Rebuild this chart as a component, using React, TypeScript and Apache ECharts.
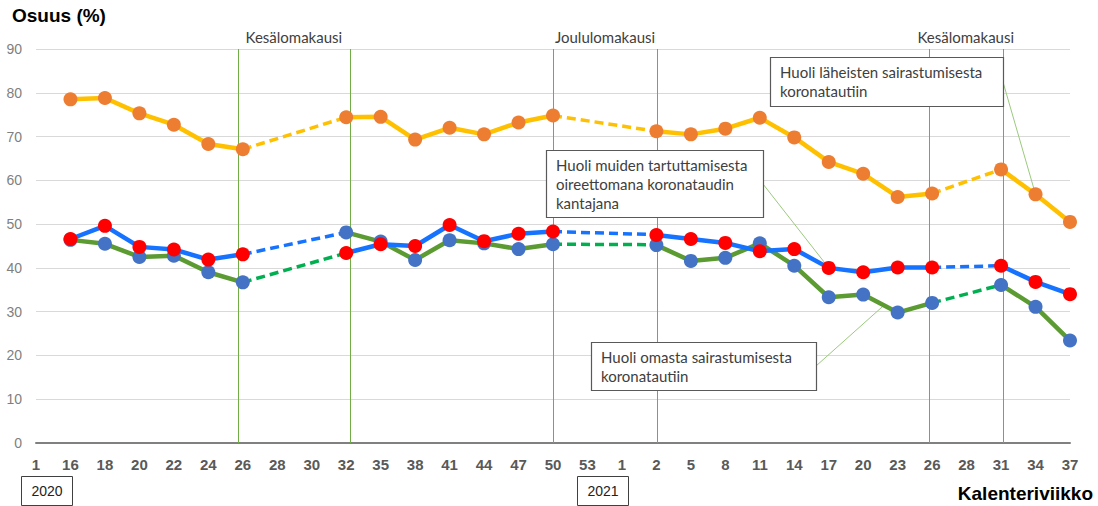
import React, { useEffect, useRef } from "react";
import * as echarts from "echarts";

// Calendar weeks (tick labels) per year
const weeks2020 = ["1", "16", "18", "20", "22", "24", "26", "28", "30", "32", "35", "38", "41", "44", "47", "50", "53"];
const weeks2021 = ["1", "2", "5", "8", "11", "14", "17", "20", "23", "26", "28", "31", "34", "37"];
const categories = [
  ...weeks2020.map((w) => `2020-${w}`),
  ...weeks2021.map((w) => `2021-${w}`),
];

// Huoli läheisten sairastumisesta koronatautiin (%)
const lahesten = [
  null, 78.5, 78.8, 75.3, 72.7, 68.3, 67.1, null, null, 74.4, 74.5, 69.3, 72.0, 70.5, 73.2, 74.8, null,
  null, 71.2, 70.5, 71.8, 74.3, 69.8, 64.2, 61.5, 56.2, 57.0, null, 62.5, 56.8, 50.5,
];
// Huoli muiden tartuttamisesta oireettomana koronataudin kantajana (%)
const muiden = [
  null, 46.6, 49.6, 44.8, 44.2, 41.9, 43.1, null, null, 43.4, 45.4, 45.0, 49.8, 46.1, 47.8, 48.3, null,
  null, 47.5, 46.6, 45.7, 43.8, 44.3, 40.0, 39.0, 40.1, 40.1, null, 40.5, 36.8, 34.0,
];
// Huoli omasta sairastumisesta koronatautiin (%)
const omasta = [
  null, 46.4, 45.5, 42.5, 42.8, 39.0, 36.7, null, null, 48.1, 46.0, 41.8, 46.3, 45.6, 44.3, 45.4, null,
  null, 45.2, 41.6, 42.3, 45.6, 40.5, 33.3, 33.9, 29.8, 32.0, null, 36.1, 31.1, 23.4,
];

// Dashed bridges over the gaps (start week, end week) and their end values
const gapEnds = [
  ["2020-26", "2020-32"],
  ["2020-50", "2021-2"],
  ["2021-26", "2021-31"],
];
const lahestenBridge = [[67.1, 74.4], [74.8, 71.2], [57.0, 62.5]];
const muidenBridge = [[43.1, 48.1], [48.3, 47.6], [40.1, 40.5]];
const omastaBridge = [[36.7, 43.4], [45.4, 45.3], [32.0, 36.1]];

// Holiday periods (vertical lines, positions on the category axis)
const periodLines = [5.86, 9.1, 15.0, 18.02, 25.9, 28.05];
const periodNames = ["Kesälomakausi", "Joululomakausi", "Kesälomakausi"];

const yTicks = { min: 0, max: 90, interval: 10 };

const ANN_FONT = "Lato";
const ANN_COLOR = "#404040";

export default function App() {
  const ref = useRef<HTMLDivElement>(null);

  useEffect(() => {
    if (!ref.current) return;
    const chart = echarts.init(ref.current, null, { renderer: "svg" });

    const idx = (c: string) => categories.indexOf(c);

    const bridgeSeries = (bridges: number[][], color: string) =>
      bridges.map((b, i) => ({
        type: "line",
        data: [
          [idx(gapEnds[i][0]), b[0]],
          [idx(gapEnds[i][1]), b[1]],
        ],
        showSymbol: false,
        symbol: "none",
        silent: true,
        lineStyle: { color, width: 3.5, type: [9, 5] },
        z: 2,
      }));

    const solid = (data: (number | null)[], lineColor: string, markerColor: string) => ({
      type: "line",
      data,
      connectNulls: false,
      symbol: "circle",
      symbolSize: 14,
      showSymbol: true,
      silent: true,
      lineStyle: { color: lineColor, width: 4.5 },
      itemStyle: { color: markerColor, borderWidth: 0 },
      z: 3,
    });

    chart.setOption({
      animation: false,
      grid: { left: 36, right: 28, top: 49, bottom: 63 },
      xAxis: {
        type: "category",
        data: categories,
        boundaryGap: false,
        axisLine: { lineStyle: { color: "#808080", width: 2 } },
        axisTick: { show: false },
        splitLine: { show: false },
        axisLabel: {
          interval: 0,
          formatter: (v: string) => v.split("-")[1],
          fontWeight: "bold",
          fontSize: 15,
          fontFamily: "Liberation Sans",
          color: "#595959",
          margin: 14,
        },
      },
      yAxis: {
        type: "value",
        min: yTicks.min,
        max: yTicks.max,
        interval: yTicks.interval,
        axisLine: { show: false },
        axisTick: { show: false },
        axisLabel: { fontSize: 14, fontFamily: "Liberation Sans", color: "#7F7F7F", margin: 14 },
        splitLine: { lineStyle: { color: "#D9D9D9", width: 1 } },
      },
      series: [
        ...bridgeSeries(omastaBridge, "#00B050"),
        ...bridgeSeries(muidenBridge, "#1573FF"),
        ...bridgeSeries(lahestenBridge, "#FFC000"),
        solid(omasta, "#5B9B32", "#4472C4"),
        solid(muiden, "#1573FF", "#FF0000"),
        solid(lahesten, "#FFC000", "#ED7D31"),
      ],
    });

    const px = (i: number, v: number) => chart.convertToPixel({ gridIndex: 0 }, [i, v]) as number[];
    const x0 = px(0, 0)[0];
    const x1 = px(1, 0)[0];
    const xAt = (f: number) => x0 + (x1 - x0) * f;
    const yTop = px(0, yTicks.max)[1];
    const yBottom = px(0, yTicks.min)[1];

    const graphics: any[] = [];

    // Holiday period vertical lines
    periodLines.forEach((f) => {
      const x = Math.round(xAt(f)) + 0.5;
      graphics.push({
        type: "line",
        shape: { x1: x, y1: yTop, x2: x, y2: yBottom },
        style: { stroke: "#70AD47", lineWidth: 1 },
        z: 1,
        silent: true,
      });
    });

    // Titles
    graphics.push({
      type: "text",
      left: 12,
      top: 6,
      style: { text: "Osuus (%)", font: "bold 19px 'Liberation Sans'", fill: "#000" },
    });
    graphics.push({
      type: "text",
      right: 5,
      top: 484,
      style: { text: "Kalenteriviikko", font: "bold 19px 'Liberation Sans'", fill: "#000" },
    });

    // Period labels
    periodNames.forEach((name, i) => {
      const x = (xAt(periodLines[2 * i]) + xAt(periodLines[2 * i + 1])) / 2;
      graphics.push({
        type: "text",
        x,
        y: 37,
        style: {
          text: name,
          fontSize: 15,
          fontFamily: ANN_FONT,
          fill: ANN_COLOR,
          align: "center",
          verticalAlign: "middle",
        },
      });
    });

    // Year boxes
    const yearBox = (x: number, label: string) => {
      graphics.push({
        type: "rect",
        shape: { x: x + 0.5, y: 476.5, width: 51, height: 29 },
        style: { fill: "#fff", stroke: "#404040", lineWidth: 1 },
      });
      graphics.push({
        type: "text",
        x: x + 26,
        y: 491,
        style: {
          text: label,
          fontSize: 14,
          fontFamily: "Liberation Sans",
          fill: "#222",
          align: "center",
          verticalAlign: "middle",
        },
      });
    };
    yearBox(21, "2020");
    yearBox(577, "2021");

    // Annotation boxes with leader lines
    const annot = (
      x: number,
      y: number,
      w: number,
      h: number,
      text: string,
      from: number[],
      to: number[]
    ) => {
      graphics.push({
        type: "line",
        shape: { x1: from[0], y1: from[1], x2: to[0], y2: to[1] },
        style: { stroke: "#9CC97E", lineWidth: 1 },
        z: 1,
      });
      graphics.push({
        type: "rect",
        shape: { x: x + 0.5, y: y + 0.5, width: w, height: h },
        style: { fill: "#fff", stroke: "#595959", lineWidth: 1.2 },
        z: 10,
      });
      graphics.push({
        type: "text",
        x: x + 10,
        y: y + 5,
        z: 11,
        style: {
          text,
          fontSize: 15,
          lineHeight: 19,
          fontFamily: ANN_FONT,
          fill: ANN_COLOR,
          align: "left",
          verticalAlign: "top",
        },
      });
    };

    const pL = px(idx("2021-34"), lahesten[idx("2021-34")] as number);
    annot(770, 57, 233, 49, "Huoli läheisten sairastumisesta\nkoronatautiin", [1003, 82], pL);

    const pM = px(idx("2021-17"), muiden[idx("2021-17")] as number);
    annot(546, 150, 217, 67, "Huoli muiden tartuttamisesta\noireettomana koronataudin\nkantajana", [763, 184], pM);

    const a = px(idx("2021-20"), omasta[idx("2021-20")] as number);
    const b = px(idx("2021-23"), omasta[idx("2021-23")] as number);
    const t = 0.6;
    const pO = [a[0] + (b[0] - a[0]) * t, a[1] + (b[1] - a[1]) * t];
    annot(591, 342, 225, 48, "Huoli omasta sairastumisesta\nkoronatautiin", [816, 366], pO);

    chart.setOption({ graphic: graphics });

    return () => chart.dispose();
  }, []);

  return (
    <div
      ref={ref}
      style={{ position: "fixed", left: 0, top: 0, width: 1098, height: 506, background: "#fff" }}
    />
  );
}
